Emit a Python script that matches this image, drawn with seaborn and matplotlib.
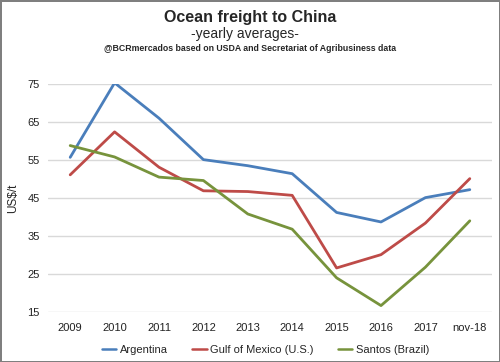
import pandas as pd
import matplotlib
matplotlib.use("Agg")
import matplotlib.pyplot as plt
import seaborn as sns

# ── Data ───────────────────────────────────────────────────────────────────────
periods   = ["2009", "2010", "2011", "2012", "2013", "2014", "2015", "2016", "2017", "nov-18"]
argentina = [55.7, 75.3, 66.0, 55.1, 53.5, 51.4, 41.2, 38.7, 45.1, 47.2]
gulf      = [51.1, 62.4, 53.1, 46.9, 46.7, 45.7, 26.6, 30.1, 38.4, 50.1]
santos    = [58.8, 55.8, 50.5, 49.6, 40.8, 36.8, 24.0, 16.7, 26.8, 39.0]
routes    = ["Argentina", "Gulf of Mexico (U.S.)", "Santos (Brazil)"]
colors    = ["#4A7EBB", "#BE4B48", "#77933C"]

df = pd.DataFrame({
    "period": periods * 3,
    "value": argentina + gulf + santos,
    "route": [r for r in routes for _ in periods],
})

sns.set_theme(style="white")
plt.rcParams["font.family"] = ["Liberation Sans", "DejaVu Sans"]

fig = plt.figure(figsize=(5, 3.62), dpi=100)
fig.patch.set_edgecolor("#7F7F7F")
fig.patch.set_linewidth(2)
ax = fig.add_axes([0.096, 0.138, 0.888, 0.63])

sns.lineplot(data=df, x="period", y="value", hue="route", palette=colors,
             linewidth=2, ax=ax, sort=False)

ax.set_ylim(15, 75)
ax.set_xlim(-0.5, len(periods) - 0.5)
ax.set_yticks(range(15, 76, 10))
ax.yaxis.grid(True, color="#D9D9D9", linewidth=1)
ax.set_axisbelow(True)
for s in ax.spines.values():
    s.set_visible(False)
ax.tick_params(axis="both", length=0, labelsize=8, colors="#222222")
ax.tick_params(axis="x", pad=8)
ax.tick_params(axis="y", pad=6)
ax.set_xlabel("")
ax.set_ylabel("US$/t", fontsize=8.5, labelpad=6)

leg = ax.legend(loc="upper center", bbox_to_anchor=(0.49, -0.1), ncol=3, frameon=False,
                fontsize=8, handlelength=1.3, handletextpad=0.3, columnspacing=2.2)
for line in leg.get_lines():
    line.set_linewidth(1.8)

fig.text(0.5, 0.952, "Ocean freight to China", ha="center", va="center",
         fontsize=11.5, fontweight="bold")
fig.text(0.49, 0.907, "-yearly averages-", ha="center", va="center", fontsize=10)
fig.text(0.5, 0.866, "@BCRmercados based on USDA and Secretariat of Agribusiness data",
         ha="center", va="center", fontsize=6.3, fontweight="bold")

fig.savefig("out.png", dpi=100)
